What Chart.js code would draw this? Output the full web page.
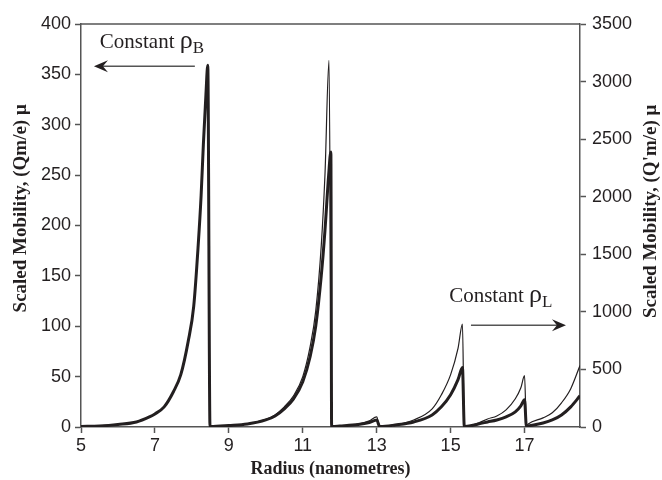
<!DOCTYPE html>
<html>
<head>
<meta charset="utf-8">
<script src="https://cdn.jsdelivr.net/npm/chart.js@4/dist/chart.umd.min.js"></script>
<style>
  html, body { margin: 0; padding: 0; background: #fff; }
  #wrap { width: 662px; height: 480px; }
</style>
</head>
<body>
<div id="wrap"><canvas id="canvas" width="662" height="480"></canvas></div>
<script>
// radius (nm) sample points
var radiusB = [5, 5.5, 6, 6.5, 6.85, 7, 7.25, 7.5, 7.7, 7.9, 8.05, 8.17, 8.25, 8.31, 8.38, 8.43, 8.49,
  8.5, 9, 9.5, 10, 10.25, 10.5, 10.75, 11, 11.2, 11.35, 11.5, 11.6, 11.7, 11.76, 11.78,
  11.8, 12, 12.5, 12.8, 13.0, 13.08,
  13.1, 13.5, 14, 14.5, 14.75, 15, 15.2, 15.32, 15.37,
  15.4, 15.75, 16, 16.25, 16.5, 16.75, 16.9, 17.0, 17.05,
  17.1, 17.5, 17.75, 18, 18.25, 18.5];
// constant rho_B, left axis
var mobilityB = [0.5, 1, 2.5, 5, 10, 13, 20, 35, 52, 85, 120, 180, 230, 280, 330, 359, 0.5,
  0.5, 1.5, 3, 7, 11, 18, 28, 45, 70, 100, 150, 195, 250, 273, 0.5,
  0.5, 1, 2.5, 4.5, 7, 0.5,
  0.5, 2, 5, 12, 20, 32, 47, 59, 0.5,
  0.5, 3, 5, 7, 10, 15, 21, 27, 0.5,
  1, 4, 7, 12, 20, 31];

var radiusL = [5, 5.5, 6, 6.5, 6.85, 7, 7.25, 7.5, 7.7, 7.9, 8.05, 8.17, 8.25, 8.31, 8.38, 8.43, 8.49,
  8.5, 9, 9.5, 10, 10.25, 10.5, 10.75, 11, 11.2, 11.35, 11.5, 11.6, 11.71, 11.78,
  11.8, 12, 12.5, 12.8, 13.0, 13.08,
  13.1, 13.5, 14, 14.5, 14.75, 15, 15.2, 15.32, 15.37,
  15.4, 15.75, 16, 16.25, 16.5, 16.75, 16.9, 17.0, 17.05,
  17.1, 17.5, 17.75, 18, 18.25, 18.5];
// constant rho_L, right axis
var mobilityL = [4, 9, 22, 44, 88, 114, 175, 306, 455, 744, 1050, 1575, 2013, 2450, 2890, 3140, 4,
  4, 14, 28, 66, 105, 175, 271, 438, 700, 1006, 1575, 2188, 3185, 5,
  5, 10, 26, 53, 88, 5,
  5, 18, 61, 158, 280, 455, 683, 893, 5,
  5, 35, 70, 96, 149, 245, 341, 446, 8,
  26, 79, 123, 210, 333, 534];

var xTicks = [5, 7, 9, 11, 13, 15, 17];
var leftTitle = 'Scaled Mobility, (Qm/e) \u03BC';
var rightTitle = "Scaled Mobility, (Q'm/e) \u03BC";

function pts(xs, ys) {
  return xs.map(function (x, i) { return { x: x, y: ys[i] }; });
}

var ink = '#231f20';
var serif = '"Liberation Serif", "Times New Roman", serif';

// box top, y titles, arrows + "Constant rho" labels
var notes = {
  id: 'notes',
  afterDraw: function (chart) {
    var c = chart.ctx, xs = chart.scales.x, yl = chart.scales.y;
    var area = chart.chartArea;
    c.save();
    c.strokeStyle = '#555';
    c.lineWidth = 1.5;
    c.beginPath();
    c.moveTo(area.left, area.top);
    c.lineTo(area.right, area.top);
    c.stroke();

    function vtitle(txt, x, y) {
      c.save();
      c.translate(x, y);
      c.rotate(-Math.PI / 2);
      c.fillStyle = ink;
      c.font = 'bold 19px ' + serif;
      c.textAlign = 'center';
      c.textBaseline = 'middle';
      c.fillText(txt, 0, 0);
      c.restore();
    }
    vtitle(leftTitle, 21, yl.getPixelForValue(217));
    vtitle(rightTitle, 651, yl.getPixelForValue(214));

    function label(x, y, sub) {
      c.fillStyle = ink;
      c.font = '21px ' + serif;
      c.textBaseline = 'alphabetic';
      c.textAlign = 'left';
      c.fillText('Constant ', x, y);
      var w = c.measureText('Constant ').width;
      c.font = '26px ' + serif;
      c.fillText('\u03C1', w + x, y);
      var w2 = c.measureText('\u03C1').width;
      c.font = '17px ' + serif;
      c.fillText(sub, x + w + w2, y + 5);
    }
    function arrow(x1, x2, y) {
      var dir = x2 > x1 ? 1 : -1;
      c.strokeStyle = '#555';
      c.lineWidth = 1.6;
      c.beginPath();
      c.moveTo(x1, y);
      c.lineTo(x2 - dir * 4, y);
      c.stroke();
      c.fillStyle = ink;
      c.beginPath();
      c.moveTo(x2, y);
      c.lineTo(x2 - dir * 14, y - 6);
      c.lineTo(x2 - dir * 9, y);
      c.lineTo(x2 - dir * 14, y + 6);
      c.closePath();
      c.fill();
    }
    label(xs.getPixelForValue(5.51), yl.getPixelForValue(376), 'B');
    arrow(xs.getPixelForValue(8.08), xs.getPixelForValue(5.35), yl.getPixelForValue(358));
    label(xs.getPixelForValue(14.96), yl.getPixelForValue(124), 'L');
    arrow(xs.getPixelForValue(15.55), xs.getPixelForValue(18.12), yl.getPixelForValue(101));
    c.restore();
  }
};

var tickFont = { family: '"Liberation Sans", Arial, sans-serif', size: 18 };
var plain = function (v) { return String(v); };

new Chart(document.getElementById('canvas'), {
  type: 'line',
  data: {
    datasets: [
      {
        label: 'Constant rho_B',
        data: pts(radiusB, mobilityB),
        yAxisID: 'y',
        borderColor: ink,
        borderWidth: 3,
        pointRadius: 0,
        cubicInterpolationMode: 'monotone',
        fill: false
      },
      {
        label: 'Constant rho_L',
        data: pts(radiusL, mobilityL),
        yAxisID: 'y2',
        borderColor: ink,
        borderWidth: 1.2,
        pointRadius: 0,
        cubicInterpolationMode: 'monotone',
        fill: false
      }
    ]
  },
  options: {
    responsive: false,
    animation: false,
    layout: { padding: { top: 24 } },
    plugins: { legend: { display: false }, tooltip: { enabled: false } },
    scales: {
      x: {
        type: 'linear',
        min: 5,
        max: 18.5,
        afterBuildTicks: function (s) { s.ticks = xTicks.map(function (v) { return { value: v }; }); },
        afterFit: function (s) { s.height = 53; },
        grid: { drawOnChartArea: false, color: '#555', tickLength: 6, tickWidth: 1.5 },
        border: { color: '#555', width: 1.5 },
        ticks: { color: ink, font: tickFont, padding: 2, maxRotation: 0, callback: plain },
        title: { display: true, text: 'Radius (nanometres)', color: ink, font: { family: serif, size: 18, weight: 'bold' }, padding: { top: 0, bottom: 0 } }
      },
      y: {
        position: 'left',
        min: 0,
        max: 400,
        ticks: { stepSize: 50, color: ink, font: tickFont, padding: 4, callback: plain },
        afterFit: function (s) { s.width = 81; },
        grid: { drawOnChartArea: false, color: '#555', tickLength: 6, tickWidth: 1.5 },
        border: { color: '#555', width: 1.5 }
      },
      y2: {
        position: 'right',
        min: 0,
        max: 3500,
        ticks: { stepSize: 500, color: ink, font: tickFont, padding: 6, callback: plain },
        afterFit: function (s) { s.width = 82; },
        grid: { drawOnChartArea: false, color: '#555', tickLength: 6, tickWidth: 1.5 },
        border: { color: '#555', width: 1.5 }
      }
    }
  },
  plugins: [notes]
});
</script>
</body>
</html>
